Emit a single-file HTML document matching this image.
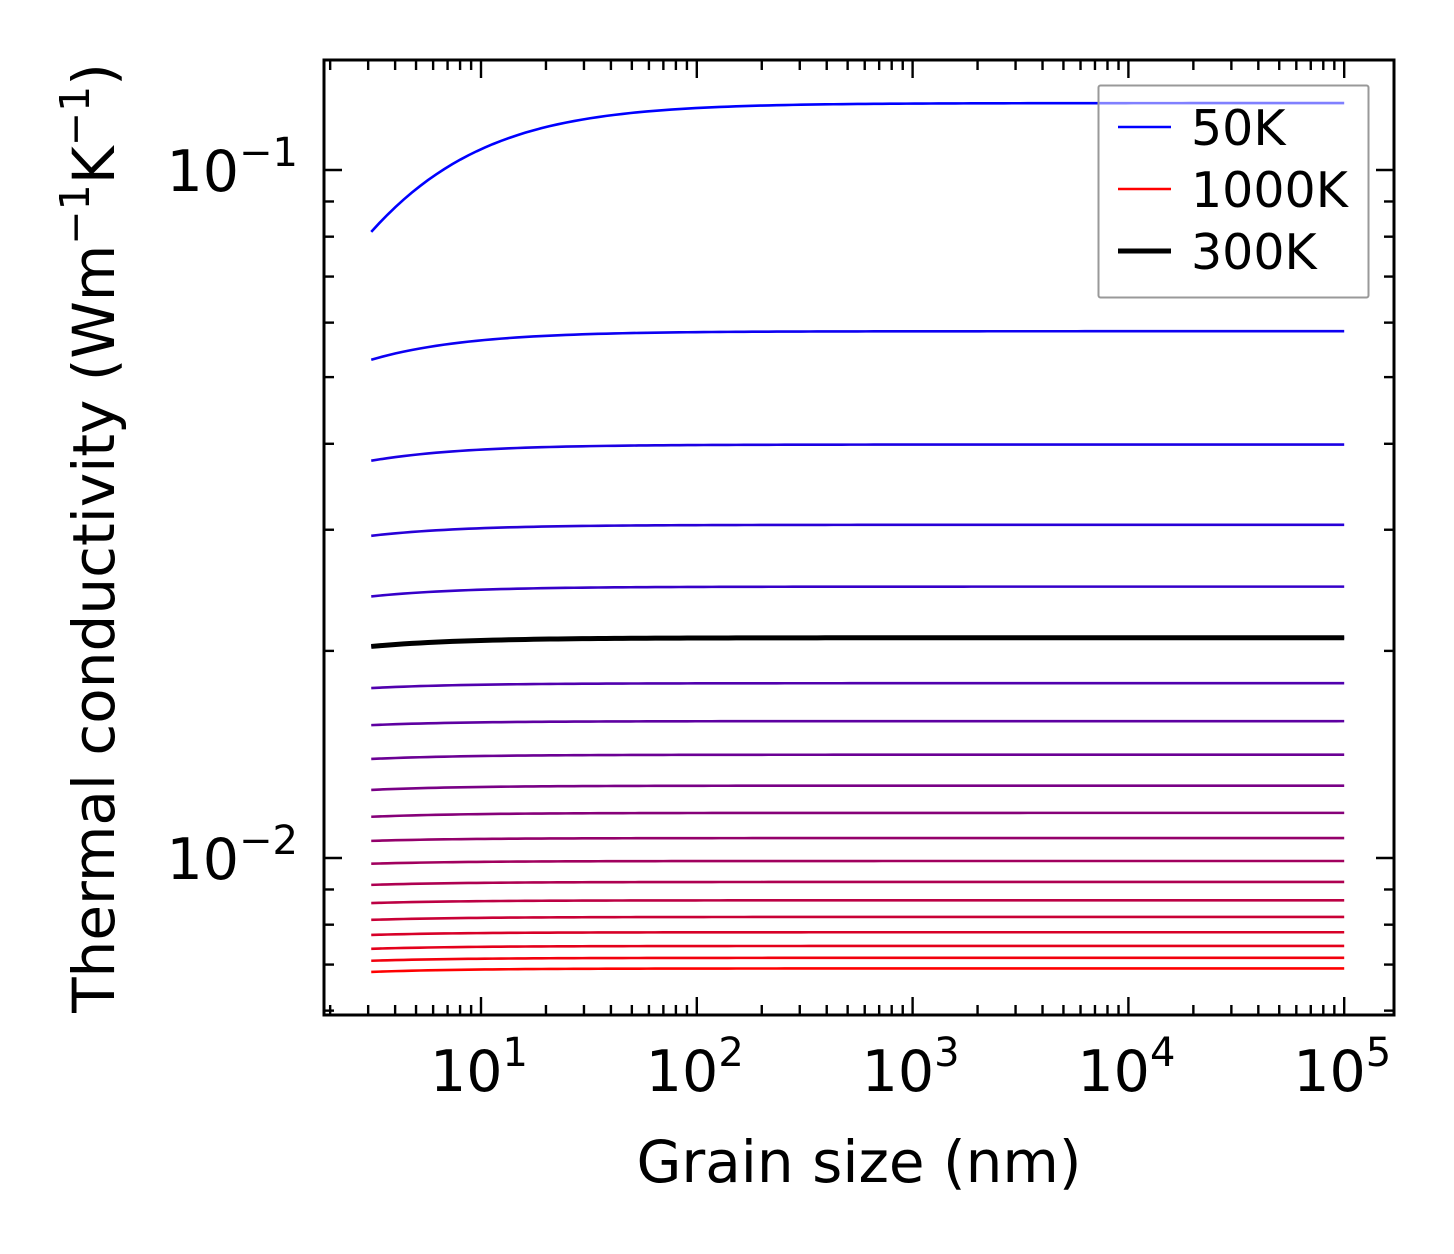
<!DOCTYPE html>
<html><head><meta charset="utf-8"><style>
html,body{margin:0;padding:0;background:#fff;}
svg{display:block;font-family:"DejaVu Sans","Liberation Sans",sans-serif;}
</style></head><body>
<svg id="chart" width="1454" height="1254" viewBox="0 0 1454 1254" xmlns="http://www.w3.org/2000/svg">
<g id="plot"></g>
</svg>
<script>
const temperatures = [50,100,150,200,250,300,350,400,450,500,550,600,650,700,750,800,850,900,950,1000];
const kPlateau = [0.1251,0.0583,0.0399,0.0305,0.0248,0.0209,0.01795,0.01581,0.01413,0.01274,0.01163,0.01069,0.00990,0.00923,0.00868,0.00821,0.00780,0.00745,0.00716,0.00691];
const kAtMinGrain = [0.0813,0.0530,0.0378,0.0294,0.0240,0.0203,0.01766,0.01560,0.01393,0.01256,0.01148,0.01059,0.00981,0.00914,0.00860,0.00813,0.00773,0.00738,0.00709,0.00683];
const grainRange = [3.1, 1e5];
const highlightT = 300;
const xTicks = [1,2,3,4,5];
const yTicks = [-1,-2];

const NS="http://www.w3.org/2000/svg";
const L=324,R=1394,T=60,B=1015;
const X10=481, XDEC=215.8, Y1=170, YDEC=688;
const xs=v=>X10+(Math.log10(v)-1)*XDEC;
const ys=v=>Y1-(Math.log10(v)+1)*YDEC;
const xmin=Math.pow(10,1+(L-X10)/XDEC), xmax=Math.pow(10,1+(R-X10)/XDEC);
const ymax=Math.pow(10,-1+(Y1-T)/YDEC), ymin=Math.pow(10,-1-(B-Y1)/YDEC);
const g=document.getElementById('plot');
function el(tag,attrs,parent){const e=document.createElementNS(NS,tag);for(const k in attrs)e.setAttribute(k,attrs[k]);(parent||g).appendChild(e);return e;}

function curve(i){
  const kinf=kPlateau[i], k0=kAtMinGrain[i];
  const Lc=grainRange[0]*(kinf/k0-1);
  const pts=[];
  const n=120;
  for(let j=0;j<=n;j++){
    const lg=Math.log10(grainRange[0])+(Math.log10(grainRange[1])-Math.log10(grainRange[0]))*j/n;
    const Lg=Math.pow(10,lg);
    pts.push(xs(Lg).toFixed(2)+','+ys(kinf/(1+Lc/Lg)).toFixed(2));
  }
  return pts.join(' ');
}
const lines=el('g',{});


temperatures.forEach((t,i)=>{
  const f=i/(temperatures.length-1);
  const col=`rgb(${Math.round(255*f)},0,${Math.round(255*(1-f))})`;
  const p=el('polyline',{points:curve(i),fill:'none',stroke:col,'stroke-width':2.6},lines);
  
  
});
const hi=temperatures.indexOf(highlightT);
const hp=el('polyline',{points:curve(hi),fill:'none',stroke:'#000','stroke-width':5},lines);



const tk=el('g',{stroke:'#000','stroke-width':2.4});


for(let d=0;d<=5;d++){for(let m=1;m<10;m++){const v=m*Math.pow(10,d);if(v<xmin||v>xmax)continue;const x=xs(v);const len=m===1?18:10;
  el('line',{x1:x,y1:B,x2:x,y2:B-len},tk);el('line',{x1:x,y1:T,x2:x,y2:T+len},tk);}}
for(let d=-3;d<=-1;d++){for(let m=1;m<10;m++){const v=m*Math.pow(10,d);if(v<ymin||v>ymax)continue;const y=ys(v);const len=m===1?18:10;
  el('line',{x1:L,y1:y,x2:L+len,y2:y},tk);el('line',{x1:R,y1:y,x2:R-len,y2:y},tk);}}
const fr=el('rect',{x:L,y:T,width:R-L,height:B-T,fill:'none',stroke:'#000','stroke-width':3});



xTicks.forEach(p=>{
  const t=el('text',{x:xs(Math.pow(10,p))-2,y:1091,'font-size':57,'text-anchor':'middle',fill:'#000'});
  
  
  t.innerHTML='10<tspan dy="-25" font-size="40">'+p+'</tspan>';
});
yTicks.forEach(p=>{
  const t=el('text',{x:298,y:ys(Math.pow(10,p))+21,'font-size':57,'text-anchor':'end',fill:'#000'});
  
  
  t.innerHTML='10<tspan dy="-25" font-size="40">−'+(-p)+'</tspan>';
});
const xl=el('text',{x:859,y:1182,'font-size':58,'text-anchor':'middle',fill:'#000'});


xl.textContent='Grain size (nm)';
const yl=el('text',{x:0,y:0,'font-size':58,'text-anchor':'middle',fill:'#000',transform:'translate(114,538) rotate(-90)'});


yl.innerHTML='Thermal conductivity (Wm<tspan dy="-25" font-size="41">−1</tspan><tspan dy="25">K</tspan><tspan dy="-25" font-size="41">−1</tspan><tspan dy="25">)</tspan>';

const lg=el('g',{});


el('rect',{x:1098.5,y:85.5,width:270,height:212,fill:'#fff','fill-opacity':0.5,stroke:'#999','stroke-width':2,rx:2},lg);
const entries=[['50K','rgb(0,0,255)',2.6,127],['1000K','rgb(255,0,0)',2.6,189],['300K','#000',5,251]];
entries.forEach(e=>{
  const ge=el('g',{},lg);
  
  
  el('line',{x1:1118,y1:e[3],x2:1171,y2:e[3],stroke:e[1],'stroke-width':e[2]},ge);
  const t=el('text',{x:1191,y:e[3]+18,'font-size':49,fill:'#000'},ge);
  t.textContent=e[0];
});
</script>
</body></html>
